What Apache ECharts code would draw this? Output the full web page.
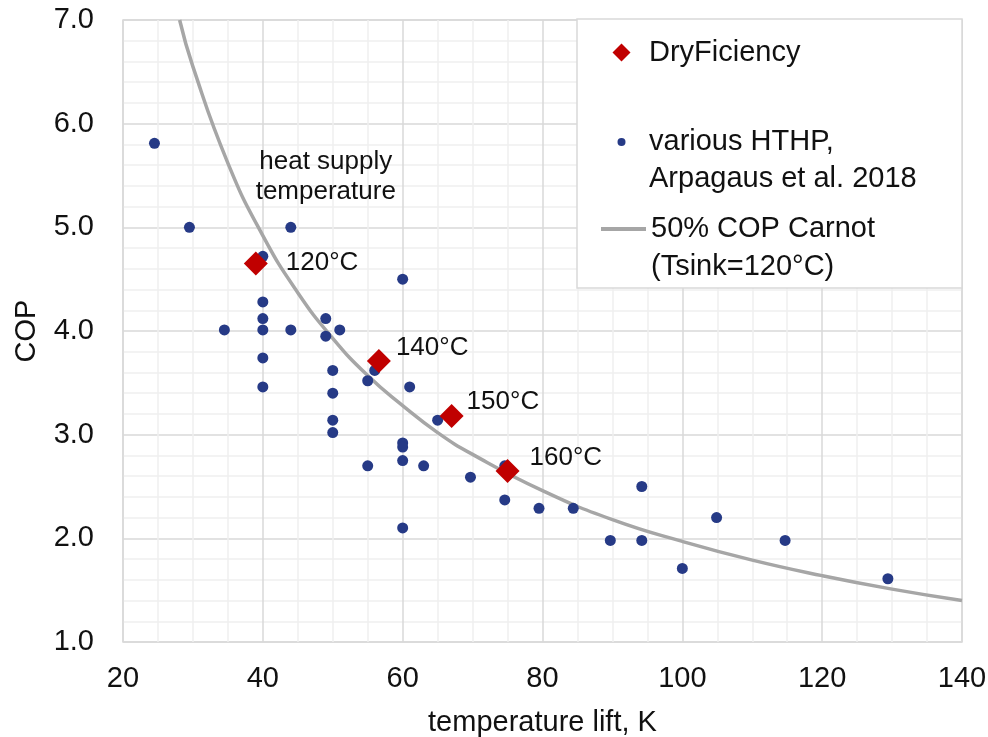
<!DOCTYPE html>
<html>
<head>
<meta charset="utf-8">
<script src="https://cdn.jsdelivr.net/npm/echarts@6/dist/echarts.min.js"></script>
<style>
  html, body { margin: 0; padding: 0; background: #fff; }
  #chart { width: 988px; height: 737px; }
</style>
</head>
<body>
<div id="chart"></div>
<script>
// various HTHP, Arpagaus et al. 2018
const hthpLift = [24.5, 29.5, 44, 40, 60, 40, 40, 49, 34.5, 40, 44, 51, 49, 40, 40, 50, 56, 55, 61, 50, 50, 65, 50, 60, 60, 60, 55, 63, 74.6, 69.7, 74.6, 79.5, 84.4, 60, 89.7, 94.2, 94.2, 100, 104.9, 114.7, 129.4];
const hthpCop = [5.81, 5.0, 5.0, 4.72, 4.5, 4.28, 4.12, 4.12, 4.01, 4.01, 4.01, 4.01, 3.95, 3.74, 3.46, 3.62, 3.62, 3.52, 3.46, 3.40, 3.14, 3.14, 3.02, 2.92, 2.88, 2.75, 2.70, 2.70, 2.70, 2.59, 2.37, 2.29, 2.29, 2.10, 1.98, 2.50, 1.98, 1.71, 2.20, 1.98, 1.61];

// DryFiciency
const dryLift = [39, 56.6, 67, 75];
const dryCop = [4.65, 3.71, 3.18, 2.65];
const dryLabels = ["120°C", "140°C", "150°C", "160°C"];

// 50% COP Carnot (Tsink=120°C)
const carnotLift = [28.1, 30, 35, 40, 45, 50, 55, 60, 65, 70, 80, 90, 100, 110, 120, 130, 140];
const carnotCop = [7.0, 6.55, 5.62, 4.92, 4.37, 3.93, 3.57, 3.28, 3.02, 2.81, 2.46, 2.18, 1.97, 1.79, 1.64, 1.51, 1.40];

// label nudges for the DryFiciency points
const dryLabelOffsets = [[13, -1], [0, -13], [-2, -14], [5, -13]];

const font = "Liberation Sans, Arial, sans-serif";
const textColor = "#111";
const blue = "#263a86";
const red = "#c00000";
const gray = "#a6a6a6";

const chart = echarts.init(document.getElementById("chart"));

// legend lefts are offset so every icon is centred at the same x;
// two-line names get an empty first line so the icon sits on the first text line
const legendBase = {
  padding: 0,
  itemWidth: 45,
  align: "left",
  symbolKeepAspect: true,
  selectedMode: false,
};

const option = {
  animation: false,
  backgroundColor: "#fff",
  grid: {
    left: 123,
    right: 26,
    top: 20,
    bottom: 95,
    outerBoundsMode: "none",
    show: true,
    borderColor: "#d9d9d9",
    borderWidth: 1.5,
  },
  xAxis: {
    type: "value",
    min: 20,
    max: 140,
    interval: 20,
    name: "temperature lift, K",
    nameLocation: "middle",
    nameGap: 66,
    nameTextStyle: { fontSize: 29, color: textColor, fontFamily: font },
    axisLine: { show: false },
    axisTick: { show: false },
    axisLabel: { fontSize: 29, color: textColor, fontFamily: font, margin: 22 },
    splitLine: { lineStyle: { color: "#d9d9d9", width: 1.5 } },
    minorTick: { show: false, splitNumber: 4 },
    minorSplitLine: { show: true, lineStyle: { color: "#efefef", width: 1.5 } },
  },
  yAxis: {
    type: "value",
    min: 1,
    max: 7,
    interval: 1,
    name: "COP",
    nameLocation: "middle",
    nameGap: 82,
    nameTextStyle: { fontSize: 29, color: textColor, fontFamily: font },
    axisLine: { show: false },
    axisTick: { show: false },
    axisLabel: {
      fontSize: 29,
      color: textColor,
      fontFamily: font,
      margin: 29,
      formatter: (v) => v.toFixed(1),
    },
    splitLine: { lineStyle: { color: "#d9d9d9", width: 1.5 } },
    minorTick: { show: false, splitNumber: 5 },
    minorSplitLine: { show: true, lineStyle: { color: "#efefef", width: 1.5 } },
  },
  graphic: [
    {
      type: "rect",
      z: 1,
      shape: { x: 577, y: 19, width: 385, height: 269 },
      style: { fill: "#fff", stroke: "#d9d9d9", lineWidth: 1.5 },
    },
  ],
  legend: [
    {
      ...legendBase,
      data: [{ name: "DryFiciency", icon: "path://M0,-1L1,0L0,1L-1,0Z" }],
      left: 612.5,
      top: 38,
      itemHeight: 18,
      textStyle: { fontSize: 29, color: textColor, fontFamily: font },
    },
    {
      ...legendBase,
      data: [{ name: "various HTHP,\nArpagaus et al. 2018", icon: "circle" }],
      left: 617.5,
      top: 86.5,
      itemHeight: 8,
      formatter: (name) => "\n" + name,
      textStyle: { fontSize: 29, lineHeight: 37, color: textColor, fontFamily: font },
    },
    {
      ...legendBase,
      data: ["50% COP Carnot\n(Tsink=120°C)"],
      left: 599,
      top: 172,
      itemHeight: 3.5,
      lineStyle: { width: 4, color: gray },
      formatter: (name) => "\n" + name,
      textStyle: { fontSize: 29, lineHeight: 38, color: textColor, fontFamily: font },
    },
  ],
  series: [
    {
      name: "50% COP Carnot\n(Tsink=120°C)",
      type: "line",
      smooth: true,
      symbol: "none",
      data: carnotLift.map((x, i) => [x, carnotCop[i]]),
      lineStyle: { color: gray, width: 3.5 },
      itemStyle: { color: gray },
      z: 2,
      markPoint: {
        symbol: "circle",
        symbolSize: 0,
        silent: true,
        data: [{ coord: [49, 5.49], value: "heat supply\ntemperature" }],
        label: {
          show: true,
          position: "inside",
          formatter: "heat supply\ntemperature",
          fontSize: 26,
          lineHeight: 30,
          color: textColor,
          fontFamily: font,
        },
      },
    },
    {
      name: "various HTHP,\nArpagaus et al. 2018",
      type: "scatter",
      symbol: "circle",
      symbolSize: 11,
      data: hthpLift.map((x, i) => [x, hthpCop[i]]),
      itemStyle: { color: blue, opacity: 1 },
      z: 3,
    },
    {
      name: "DryFiciency",
      type: "scatter",
      symbol: "diamond",
      symbolSize: 24,
      data: dryLift.map((x, i) => ({
        value: [x, dryCop[i]],
        label: { offset: dryLabelOffsets[i] },
      })),
      itemStyle: { color: red, opacity: 1 },
      label: {
        show: true,
        position: "right",
        distance: 5,
        formatter: (p) => dryLabels[p.dataIndex],
        fontSize: 26,
        color: textColor,
        opacity: 1,
        fontFamily: font,
      },
      z: 4,
    },
  ],
};

chart.setOption(option);
window.addEventListener("resize", () => chart.resize());
</script>
</body>
</html>
